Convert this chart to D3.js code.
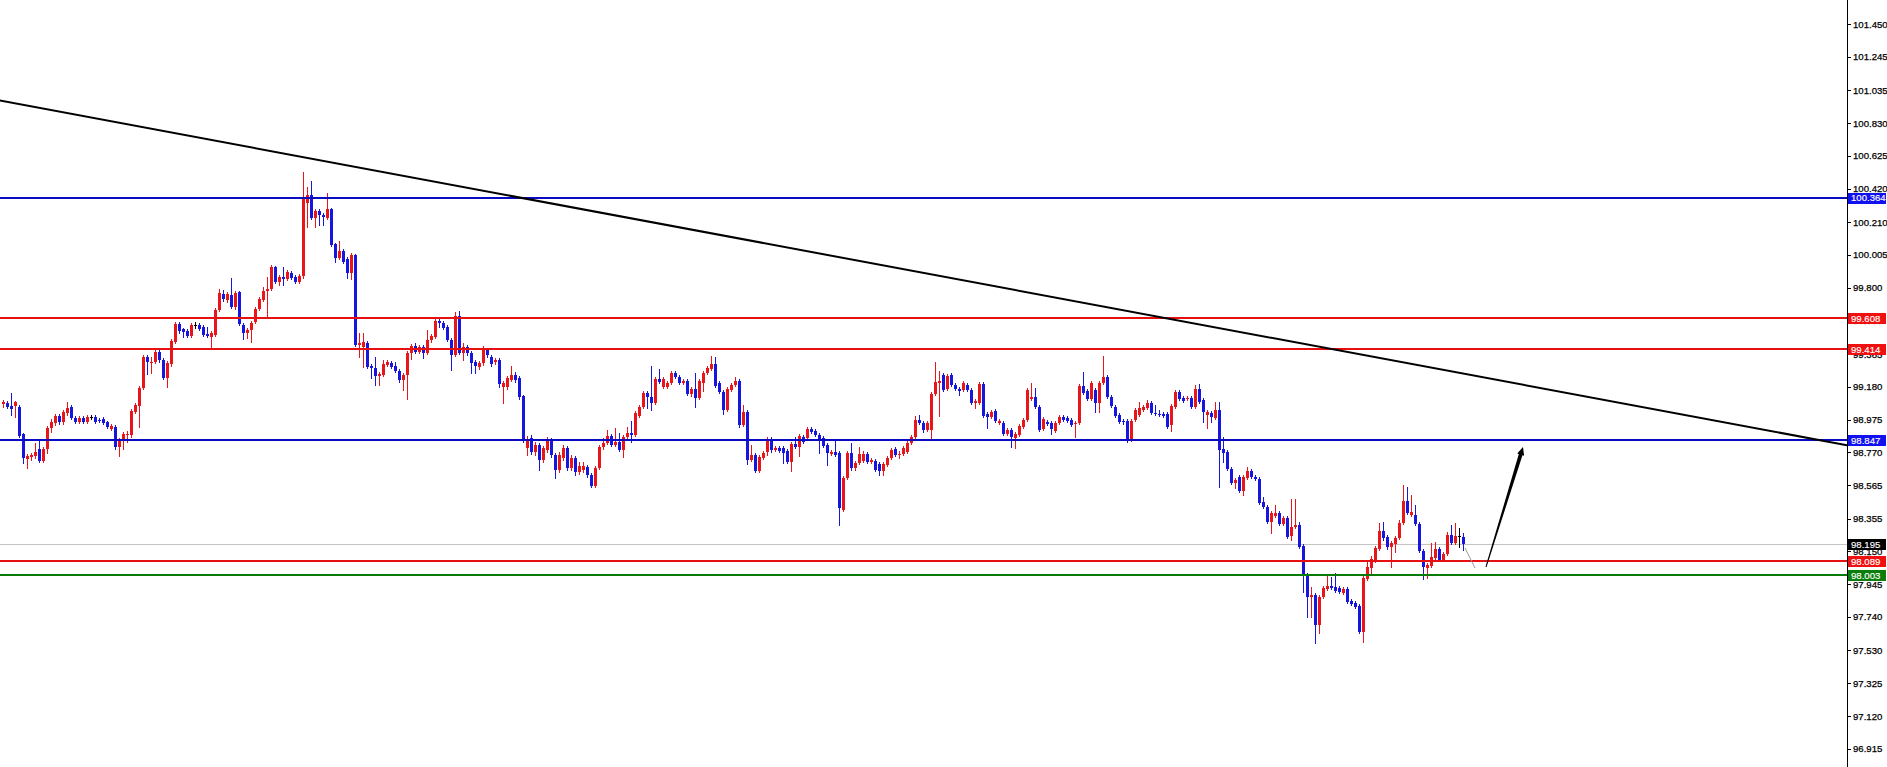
<!DOCTYPE html>
<html><head><meta charset="utf-8">
<script src="https://cdn.jsdelivr.net/npm/d3@7"></script>
<style>html,body{margin:0;padding:0;background:#fff;overflow:hidden}</style>
</head><body><svg id="c" width="1887" height="767"></svg>
<script>
const opens = [
99.071,99.077,99.058,99.058,99.052,98.883,98.727,98.739,98.746,98.789,
98.714,98.789,98.921,98.952,98.996,98.958,99.015,99.052,98.983,98.958,
98.983,98.958,98.990,98.990,98.971,98.977,98.958,98.914,98.927,98.802,
98.846,98.877,98.877,99.021,99.058,99.171,99.365,99.328,99.334,99.397,
99.346,99.234,99.321,99.459,99.572,99.540,99.528,99.497,99.566,99.566,
99.553,99.509,99.490,99.503,99.659,99.760,99.722,99.753,99.678,99.772,
99.566,99.515,99.534,99.584,99.666,99.722,99.778,99.791,99.929,99.835,
99.866,99.853,99.891,99.866,99.835,99.872,100.329,100.379,100.235,100.279,
100.254,100.235,100.292,100.073,99.985,100.029,99.979,99.891,100.004,99.440,
99.428,99.453,99.309,99.296,99.246,99.253,99.315,99.328,99.309,99.277,
99.221,99.253,99.390,99.434,99.397,99.428,99.390,99.472,99.490,99.591,
99.578,99.553,99.472,99.378,99.622,99.390,99.428,99.390,99.334,99.303,
99.328,99.409,99.365,99.334,99.346,99.177,99.177,99.221,99.253,99.234,
99.121,98.796,98.858,98.770,98.814,98.720,98.783,98.846,98.752,98.658,
98.733,98.796,98.670,98.733,98.645,98.658,98.677,98.627,98.558,98.670,
98.802,98.827,98.871,98.814,98.833,98.783,98.864,98.889,98.877,98.996,
99.052,99.140,99.115,99.077,99.227,99.177,99.177,99.202,99.265,99.240,
99.202,99.215,99.134,99.165,99.109,99.202,99.265,99.290,99.321,99.202,
99.146,99.033,99.159,99.190,99.215,98.940,99.021,98.720,98.752,98.652,
98.733,98.770,98.852,98.783,98.796,98.796,98.777,98.708,98.821,98.802,
98.864,98.858,98.914,98.902,98.877,98.858,98.814,98.758,98.770,98.764,
98.407,98.608,98.764,98.670,98.702,98.714,98.758,98.708,98.714,98.695,
98.652,98.689,98.733,98.789,98.752,98.758,98.770,98.827,98.864,98.971,
98.952,98.908,98.908,99.134,99.202,99.253,99.165,99.253,99.190,99.165,
99.159,99.190,99.159,99.077,99.077,99.196,99.008,98.990,99.027,98.952,
98.952,98.883,98.908,98.858,98.877,98.927,98.971,99.102,99.115,99.052,
98.914,98.958,98.952,98.902,98.952,98.990,98.983,98.971,98.946,98.952,
99.184,99.152,99.102,99.159,99.077,99.202,99.240,99.115,99.052,99.002,
98.965,98.965,98.846,98.971,99.002,99.033,99.046,99.077,99.015,99.008,
99.008,99.008,98.940,99.052,99.146,99.109,99.102,99.109,99.052,99.165,
99.096,99.002,99.015,98.983,99.033,98.789,98.770,98.664,98.576,98.614,
98.526,98.608,98.652,98.614,98.601,98.457,98.426,98.332,98.370,98.389,
98.320,98.357,98.245,98.301,98.314,98.182,98.000,97.863,97.875,97.688,
97.863,97.913,97.932,97.925,97.919,97.888,97.913,97.838,97.825,97.806,
97.644,97.975,98.044,98.094,98.163,98.276,98.238,98.176,98.195,98.232,
98.326,98.464,98.376,98.376,98.320,98.151,98.044,98.057,98.107,98.163,
98.094,98.132,98.251,98.201,98.245,98.238];
const highs = [
99.096,99.090,99.140,99.090,99.065,98.889,98.758,98.764,98.827,98.839,
98.802,98.933,98.977,99.008,99.008,99.033,99.084,99.065,98.996,98.996,
98.996,99.002,99.002,99.002,98.983,98.990,98.965,98.946,98.940,98.858,
98.896,98.902,99.040,99.077,99.184,99.377,99.377,99.365,99.409,99.409,
99.359,99.340,99.478,99.584,99.584,99.547,99.540,99.578,99.584,99.578,
99.566,99.553,99.528,99.672,99.791,99.785,99.772,99.860,99.778,99.778,
99.578,99.547,99.591,99.678,99.741,99.803,99.866,99.941,99.935,99.878,
99.929,99.910,99.904,99.878,99.885,100.523,100.429,100.467,100.292,100.292,
100.267,100.392,100.298,100.079,100.091,100.041,99.991,100.016,100.010,99.515,
99.515,99.465,99.321,99.365,99.271,99.346,99.346,99.340,99.334,99.290,
99.265,99.403,99.447,99.453,99.440,99.440,99.534,99.509,99.603,99.603,
99.591,99.566,99.484,99.647,99.653,99.453,99.440,99.403,99.346,99.340,
99.434,99.422,99.378,99.359,99.359,99.215,99.246,99.309,99.271,99.246,
99.127,98.871,98.877,98.833,98.827,98.808,98.864,98.858,98.764,98.770,
98.814,98.808,98.752,98.746,98.708,98.708,98.689,98.639,98.683,98.814,
98.858,98.908,98.883,98.921,98.889,98.877,98.927,98.965,99.027,99.065,
99.152,99.152,99.309,99.240,99.290,99.240,99.215,99.277,99.277,99.253,
99.227,99.227,99.177,99.265,99.227,99.277,99.309,99.371,99.365,99.215,
99.159,99.177,99.202,99.240,99.227,99.065,99.033,98.814,98.764,98.752,
98.777,98.864,98.864,98.808,98.808,98.808,98.789,98.833,98.864,98.883,
98.877,98.927,98.927,98.914,98.889,98.871,98.827,98.783,98.846,98.777,
98.620,98.777,98.827,98.714,98.802,98.777,98.770,98.733,98.727,98.708,
98.708,98.746,98.796,98.802,98.777,98.808,98.839,98.877,98.996,99.002,
98.965,98.965,99.146,99.334,99.277,99.265,99.259,99.265,99.202,99.177,
99.215,99.202,99.171,99.102,99.209,99.209,99.021,99.033,99.040,98.977,
98.965,98.921,98.921,98.896,98.946,98.983,99.171,99.202,99.171,99.065,
98.990,98.971,98.965,98.965,99.002,99.002,98.996,98.983,98.965,99.196,
99.271,99.165,99.215,99.171,99.215,99.371,99.253,99.127,99.065,99.015,
98.977,98.977,98.977,99.046,99.084,99.065,99.096,99.090,99.065,99.033,
99.021,99.021,99.071,99.159,99.159,99.121,99.121,99.121,99.190,99.196,
99.109,99.033,99.027,99.084,99.084,98.864,98.783,98.677,98.608,98.627,
98.627,98.677,98.664,98.627,98.614,98.489,98.439,98.401,98.439,98.401,
98.370,98.370,98.476,98.476,98.332,98.195,98.013,97.925,97.888,97.875,
97.932,98.000,97.988,98.013,97.932,97.925,97.925,97.850,97.838,97.819,
97.994,98.094,98.119,98.182,98.326,98.332,98.251,98.213,98.245,98.345,
98.564,98.551,98.501,98.439,98.332,98.163,98.076,98.201,98.207,98.176,
98.144,98.270,98.314,98.326,98.295,98.263];
const lows = [
99.052,99.046,99.002,98.990,98.864,98.702,98.670,98.720,98.733,98.708,
98.708,98.764,98.896,98.940,98.946,98.946,99.002,98.977,98.952,98.952,
98.952,98.952,98.977,98.952,98.958,98.946,98.921,98.908,98.789,98.746,
98.789,98.833,98.864,99.015,98.927,99.165,99.259,99.265,99.328,99.334,
99.227,99.177,99.309,99.453,99.515,99.490,99.490,99.490,99.547,99.534,
99.497,99.490,99.422,99.497,99.653,99.716,99.710,99.672,99.666,99.566,
99.478,99.484,99.459,99.578,99.659,99.716,99.616,99.785,99.828,99.816,
99.816,99.847,99.853,99.828,99.828,99.860,100.179,100.229,100.179,100.192,
100.192,100.229,100.060,99.960,99.979,99.954,99.860,99.853,99.434,99.365,
99.303,99.296,99.234,99.190,99.190,99.246,99.309,99.296,99.271,99.209,
99.159,99.102,99.353,99.390,99.390,99.359,99.384,99.459,99.484,99.553,
99.540,99.465,99.284,99.371,99.384,99.346,99.378,99.265,99.265,99.290,
99.315,99.365,99.309,99.321,99.177,99.077,99.165,99.215,99.209,99.102,
98.833,98.752,98.758,98.752,98.658,98.708,98.770,98.739,98.608,98.645,
98.720,98.658,98.658,98.627,98.633,98.645,98.614,98.551,98.551,98.664,
98.789,98.821,98.808,98.808,98.777,98.739,98.858,98.833,98.871,98.990,
99.046,99.046,99.033,99.071,99.202,99.171,99.171,99.196,99.234,99.196,
99.196,99.127,99.121,99.052,99.102,99.152,99.259,99.284,99.177,99.140,
99.008,99.027,99.152,99.184,98.927,98.933,98.696,98.714,98.645,98.645,
98.727,98.752,98.770,98.777,98.770,98.702,98.702,98.652,98.796,98.746,
98.827,98.852,98.889,98.871,98.764,98.802,98.689,98.752,98.746,98.314,
98.401,98.601,98.658,98.658,98.696,98.708,98.702,98.702,98.652,98.627,
98.627,98.683,98.727,98.746,98.733,98.752,98.764,98.821,98.858,98.946,
98.896,98.902,98.852,99.127,98.996,99.152,99.159,99.184,99.159,99.127,
99.152,99.152,99.071,99.046,99.071,98.990,98.921,98.983,98.958,98.946,
98.877,98.877,98.802,98.796,98.871,98.921,98.965,99.096,99.046,98.902,
98.908,98.940,98.883,98.896,98.946,98.965,98.958,98.933,98.864,98.946,
99.134,99.096,99.096,99.021,99.021,99.196,99.109,99.052,98.990,98.952,
98.946,98.833,98.839,98.965,98.996,99.027,99.040,99.008,99.002,98.996,
98.990,98.921,98.902,99.046,99.096,99.084,99.096,99.046,99.046,99.077,
98.958,98.921,98.958,98.977,98.551,98.708,98.658,98.570,98.545,98.520,
98.501,98.601,98.608,98.595,98.445,98.420,98.326,98.263,98.364,98.314,
98.314,98.232,98.220,98.295,98.170,97.894,97.738,97.738,97.575,97.637,
97.857,97.907,97.913,97.894,97.888,97.882,97.825,97.813,97.794,97.637,
97.581,97.969,98.007,98.082,98.157,98.220,98.163,98.051,98.144,98.226,
98.320,98.382,98.370,98.314,98.144,97.975,97.982,98.051,98.101,98.088,
98.088,98.126,98.195,98.195,98.176,98.157];
const closes = [
99.084,99.052,99.040,99.084,98.871,98.733,98.746,98.752,98.770,98.714,
98.789,98.921,98.958,98.996,98.958,99.021,99.046,98.983,98.958,98.983,
98.958,98.990,98.990,98.958,98.965,98.952,98.927,98.933,98.802,98.846,
98.883,98.883,99.027,99.065,99.171,99.365,99.334,99.334,99.397,99.346,
99.234,99.328,99.465,99.572,99.528,99.522,99.497,99.566,99.566,99.541,
99.503,99.497,99.515,99.659,99.766,99.728,99.760,99.678,99.766,99.572,
99.515,99.534,99.578,99.666,99.728,99.778,99.791,99.929,99.835,99.866,
99.853,99.897,99.860,99.835,99.872,100.367,100.379,100.235,100.279,100.254,
100.242,100.292,100.066,99.985,100.029,99.960,99.891,100.004,99.440,99.453,
99.459,99.303,99.296,99.246,99.259,99.321,99.334,99.303,99.277,99.221,
99.253,99.390,99.434,99.397,99.428,99.390,99.472,99.497,99.591,99.578,
99.547,99.472,99.378,99.622,99.390,99.428,99.390,99.328,99.309,99.328,
99.422,99.378,99.321,99.346,99.196,99.202,99.234,99.253,99.221,99.115,
98.846,98.846,98.770,98.814,98.720,98.796,98.846,98.752,98.658,98.752,
98.796,98.670,98.733,98.645,98.683,98.683,98.627,98.558,98.670,98.802,
98.827,98.871,98.814,98.833,98.783,98.864,98.889,98.877,99.015,99.052,
99.140,99.115,99.077,99.227,99.209,99.227,99.202,99.265,99.240,99.202,
99.215,99.134,99.165,99.109,99.215,99.265,99.296,99.321,99.184,99.146,
99.033,99.165,99.190,99.215,98.940,99.021,98.720,98.752,98.652,98.739,
98.764,98.852,98.783,98.796,98.777,98.764,98.708,98.821,98.802,98.871,
98.833,98.914,98.896,98.877,98.846,98.808,98.764,98.770,98.752,98.420,
98.608,98.764,98.670,98.702,98.758,98.758,98.708,98.720,98.658,98.652,
98.695,98.733,98.783,98.752,98.758,98.796,98.827,98.864,98.971,98.952,
98.908,98.952,99.134,99.209,99.215,99.159,99.246,99.190,99.165,99.152,
99.202,99.159,99.077,99.090,99.196,98.996,98.990,99.021,98.965,98.965,
98.883,98.908,98.864,98.883,98.933,98.971,99.159,99.115,99.052,98.908,
98.977,98.946,98.914,98.952,98.990,98.971,98.965,98.940,98.952,99.184,
99.140,99.102,99.202,99.077,99.202,99.240,99.115,99.058,98.996,98.958,
98.958,98.846,98.965,99.033,99.046,99.052,99.077,99.015,99.008,99.002,
98.996,98.927,99.058,99.146,99.102,99.090,99.109,99.052,99.165,99.084,
99.021,99.021,98.990,99.033,98.783,98.764,98.664,98.576,98.595,98.526,
98.614,98.652,98.614,98.601,98.451,98.426,98.332,98.389,98.389,98.320,
98.357,98.238,98.301,98.314,98.176,98.000,97.863,97.875,97.688,97.863,
97.919,97.932,97.919,97.900,97.894,97.913,97.832,97.819,97.800,97.644,
97.982,98.051,98.101,98.170,98.276,98.232,98.176,98.201,98.232,98.326,
98.464,98.389,98.395,98.320,98.151,98.051,98.063,98.113,98.163,98.094,
98.132,98.251,98.201,98.245,98.245,98.195];

const tickValues = [101.450,101.245,101.035,100.830,100.625,100.420,100.210,100.005,99.800,99.595,99.385,
  99.180,98.975,98.770,98.565,98.355,98.150,97.945,97.740,97.530,97.325,97.120,96.915];
const blueLevels = [100.364, 98.847];
const redLevels = [99.608, 99.414, 98.089];
const greenLevels = [98.003];
const bidPrice = 98.195;
// drawn objects: [bar index, price]
const trendLine = [[-1, 100.972], [461, 98.814]];
const connector = [[365.5, 98.171], [368, 98.046]];
const arrowLine = [[370.75, 98.052], [380, 98.803]];

const axisX = 1847;
const svg = d3.select('#c');
const x = d3.scaleLinear().domain([0, 461]).range([3, axisX]);
const y = d3.scaleLinear().domain([96.915, 101.450]).range([748.7, 24]);

const UP = '#e8161b', DOWN = '#1616de', DOJI = '#000';
const LBLUE = '#0a0ac0', LRED = '#e61010', LGREEN = '#087a08';
const FONT = '"Liberation Sans", Arial, sans-serif';

svg.append('defs').append('clipPath').attr('id','plot')
  .append('rect').attr('x',0).attr('y',0).attr('width',axisX).attr('height',767);
const plot = svg.append('g').attr('clip-path','url(#plot)');

// bid line
plot.append('line').attr('x1',0).attr('x2',axisX)
  .attr('y1',Math.round(y(bidPrice))+0.5).attr('y2',Math.round(y(bidPrice))+0.5)
  .attr('stroke','#c4c4c4').attr('stroke-width',1);

const idx = d3.range(opens.length);
const col = i => closes[i] > opens[i] ? UP : (closes[i] < opens[i] ? DOWN : DOJI);
const cg = plot.append('g').attr('shape-rendering','crispEdges');
cg.selectAll('rect.w').data(idx).join('rect').attr('class','w')
  .attr('x', i => Math.round(x(i)))
  .attr('width', 1)
  .attr('y', i => Math.round(y(highs[i])))
  .attr('height', i => Math.max(1, Math.round(y(lows[i])) - Math.round(y(highs[i])) + 1))
  .attr('fill', col);
cg.selectAll('rect.b').data(idx).join('rect').attr('class','b')
  .attr('x', i => Math.round(x(i)) - 1)
  .attr('width', 3)
  .attr('y', i => Math.round(y(Math.max(opens[i], closes[i]))))
  .attr('height', i => Math.max(1, Math.round(y(Math.min(opens[i], closes[i]))) - Math.round(y(Math.max(opens[i], closes[i])))))
  .attr('fill', col);

// horizontal levels
function hline(p, c) {
  const yy = Math.round(y(p));
  plot.append('rect').attr('x',0).attr('width',axisX).attr('y',yy-1).attr('height',2)
    .attr('fill',c).attr('shape-rendering','crispEdges');
}
blueLevels.forEach(p => hline(p, LBLUE));
redLevels.forEach(p => hline(p, LRED));
greenLevels.forEach(p => hline(p, LGREEN));

// trendline
const line = d3.line().x(d => x(d[0])).y(d => y(d[1]));
plot.append('path').attr('d', line(trendLine)).attr('stroke','#000').attr('stroke-width',2).attr('fill','none');
plot.append('path').attr('d', line(connector)).attr('stroke','#9a9a9a').attr('stroke-width',1).attr('fill','none');

// tapered arrow
(function(){
  const x0 = x(arrowLine[0][0]), y0 = y(arrowLine[0][1]);
  const x1 = x(arrowLine[1][0]), y1 = y(arrowLine[1][1]);
  const dx = x1-x0, dy = y1-y0, L = Math.hypot(dx,dy);
  const ux = dx/L, uy = dy/L, nx = -uy, ny = ux;
  const headLen = 8, headW = 3.6;
  const bx = x1 - ux*headLen, by = y1 - uy*headLen;
  const w0 = 0.5, w1 = 1.9;
  const pts = [
    [x0+nx*w0, y0+ny*w0], [bx+nx*w1, by+ny*w1], [bx+nx*headW, by+ny*headW], [x1, y1],
    [bx-nx*headW, by-ny*headW], [bx-nx*w1, by-ny*w1], [x0-nx*w0, y0-ny*w0]
  ];
  plot.append('path').attr('d', 'M' + pts.map(p => p.join(',')).join('L') + 'Z').attr('fill','#000');
})();

// right axis
svg.append('line').attr('x1',axisX+0.5).attr('x2',axisX+0.5).attr('y1',0).attr('y2',767)
  .attr('stroke','#000').attr('stroke-width',1);
const ax = svg.append('g').attr('transform',`translate(${axisX},0)`)
  .call(d3.axisRight(y).tickValues(tickValues).tickFormat(d3.format('.3f')).tickSize(4).tickSizeOuter(0).tickPadding(2));
ax.select('.domain').remove();
ax.selectAll('line').attr('stroke','#000').attr('shape-rendering','crispEdges');
ax.selectAll('text').attr('fill','#000').attr('stroke','#000').attr('stroke-width',0.25)
  .style('font-family',FONT).style('font-size','9.6px');

// price label boxes
function tag(p, bg) {
  const yy = y(p);
  const g = svg.append('g');
  g.append('rect').attr('x',axisX+1).attr('y',Math.round(yy)-5).attr('width',38).attr('height',11).attr('fill',bg);
  g.append('text').attr('x',axisX+4).attr('y',yy+0.5).attr('dy','0.35em').attr('fill','#fff')
    .attr('stroke','#fff').attr('stroke-width',0.15)
    .style('font-family',FONT).style('font-size','9.6px').text(d3.format('.3f')(p));
}
blueLevels.forEach(p => tag(p, '#1010f0'));
redLevels.forEach(p => tag(p, '#f01010'));
greenLevels.forEach(p => tag(p, '#0a7d0a'));
tag(bidPrice, '#000');
</script>
</body></html>
